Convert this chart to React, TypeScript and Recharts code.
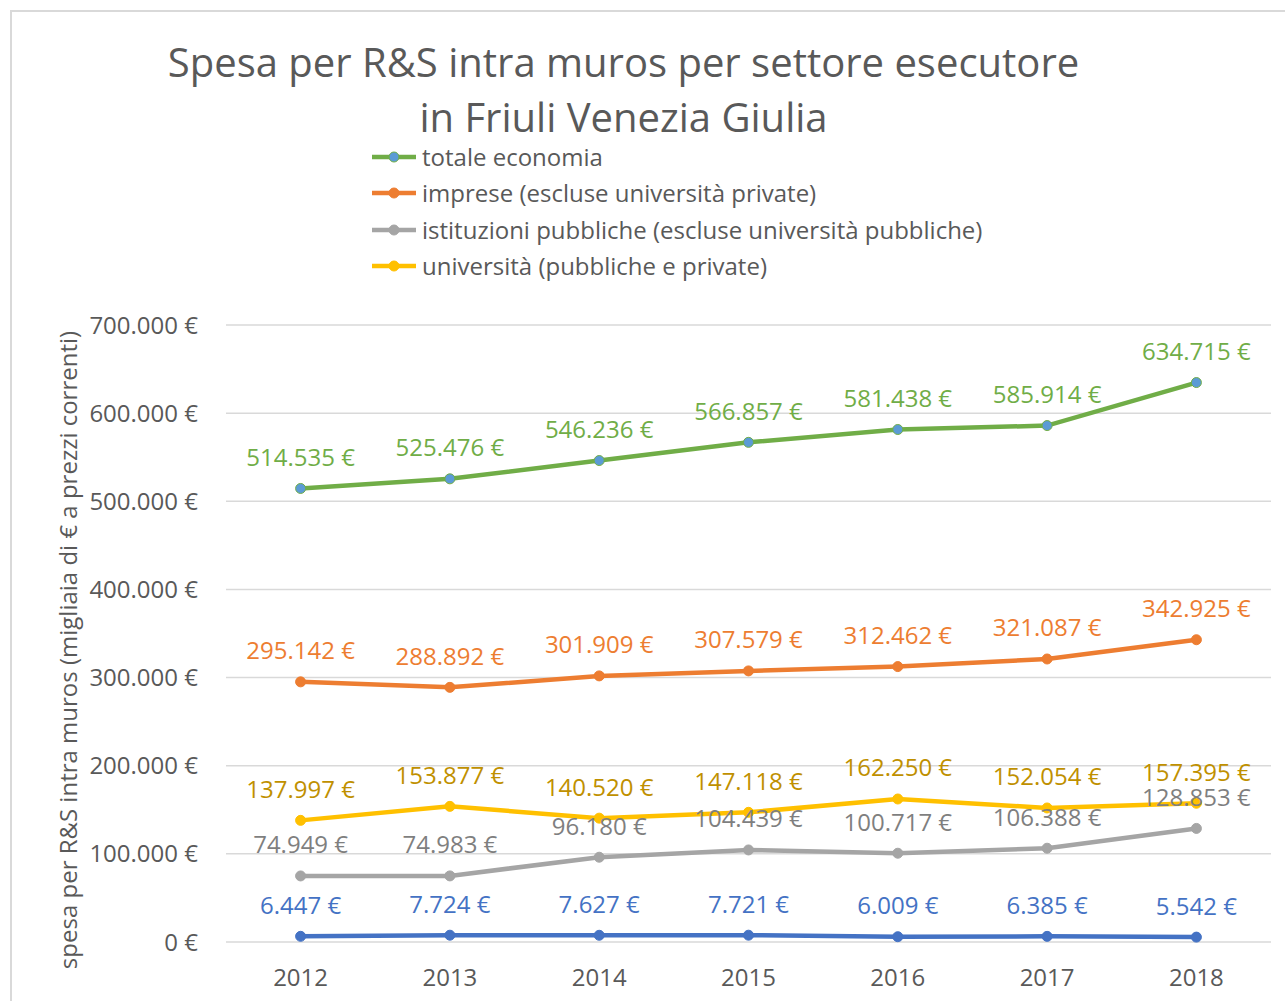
import React from 'react';
import { LineChart, Line, XAxis, YAxis, CartesianGrid, LabelList } from 'recharts';

const years = ['2012', '2013', '2014', '2015', '2016', '2017', '2018'];
const totale = [514535, 525476, 546236, 566857, 581438, 585914, 634715];
const imprese = [295142, 288892, 301909, 307579, 312462, 321087, 342925];
const istituzioni = [74949, 74983, 96180, 104439, 100717, 106388, 128853];
const universita = [137997, 153877, 140520, 147118, 162250, 152054, 157395];
const nonProfit = [6447, 7724, 7627, 7721, 6009, 6385, 5542];
const yTicks = [0, 100000, 200000, 300000, 400000, 500000, 600000, 700000];

const data = years.map((y, i) => ({
  year: y,
  totale: totale[i],
  imprese: imprese[i],
  istituzioni: istituzioni[i],
  universita: universita[i],
  nonProfit: nonProfit[i],
}));

const FONT = '"Open Sans", sans-serif';
const TEXT = '#595959';

const fmt = (n: number) => String(n).replace(/\B(?=(\d{3})+(?!\d))/g, '.') + ' €';

const makeLabel = (color: string) => (props: any) => {
  const { x, y, value } = props;
  return (
    <text x={x} y={y - 32} textAnchor="middle" dominantBaseline="central" fill={color} fontSize={24} fontFamily={FONT}>
      {fmt(value)}
    </text>
  );
};

const series = [
  { key: 'totale', name: 'totale economia', color: '#70AD47', dot: '#5B9BD5', label: '#70AD47', legend: true },
  { key: 'imprese', name: 'imprese (escluse università private)', color: '#ED7D31', dot: '#ED7D31', label: '#ED7D31', legend: true },
  { key: 'istituzioni', name: 'istituzioni pubbliche (escluse università pubbliche)', color: '#A5A5A5', dot: '#A5A5A5', label: '#7F7F7F', legend: true },
  { key: 'universita', name: 'università (pubbliche e private)', color: '#FFC000', dot: '#FFC000', label: '#BF9000', legend: true },
  { key: 'nonProfit', name: 'istituzioni private non profit', color: '#4472C4', dot: '#4472C4', label: '#4472C4', legend: false },
];

export default function App() {
  return (
    <div style={{ position: 'absolute', left: 0, top: 0, width: 1285, height: 1001, background: '#fff', overflow: 'hidden', fontFamily: FONT }}>
      <div style={{ position: 'absolute', left: 10, top: 10, width: 1320, height: 1040, border: '2px solid #D9D9D9', boxSizing: 'border-box' }} />
      <div style={{ position: 'absolute', left: 0, width: 1247, top: 34, textAlign: 'center', color: TEXT, fontSize: 40, lineHeight: '55px' }}>
        Spesa per R&amp;S intra muros per settore esecutore<br />in Friuli Venezia Giulia
      </div>
      <div style={{ position: 'absolute', left: 370, top: 139 }}>
        {series.filter(s => s.legend).map((s) => (
          <div key={s.key} style={{ display: 'flex', alignItems: 'center', height: 36.3 }}>
            <svg width={48} height={14} style={{ marginRight: 4 }}>
              <line x1={2} y1={7} x2={46} y2={7} stroke={s.color} strokeWidth={4.5} />
              <circle cx={24} cy={7} r={5} fill={s.dot} stroke={s.color} strokeWidth={1} />
            </svg>
            <span style={{ fontSize: 24, lineHeight: '30px', color: TEXT }}>{s.name}</span>
          </div>
        ))}
      </div>
      <div style={{ position: 'absolute', left: 67, top: 650, width: 0, height: 0 }}>
        <div style={{ position: 'absolute', transform: 'translate(-50%, -50%) rotate(-90deg)', whiteSpace: 'nowrap', fontSize: 24, color: TEXT }}>
          spesa per R&amp;S intra muros (migliaia di € a prezzi correnti)
        </div>
      </div>
      <div style={{ position: 'absolute', left: 0, top: 0 }}>
        <LineChart width={1285} height={1001} data={data} margin={{ top: 325, right: 14, bottom: 19, left: 0 }}>
          <CartesianGrid vertical={false} stroke="#D9D9D9" strokeWidth={1.5} />
          <XAxis dataKey="year" height={40} axisLine={false} tickLine={false} tickSize={0} tickMargin={27}
            padding={{ left: 74.6, right: 74.6 }}
            tick={{ fill: TEXT, fontSize: 24, fontFamily: FONT }} interval={0} />
          <YAxis width={226} domain={[0, 700000]} ticks={yTicks} axisLine={false} tickLine={false} tickSize={0} tickMargin={28}
            tickFormatter={(v: number) => fmt(v)} tick={{ fill: TEXT, fontSize: 24, fontFamily: FONT }} />
          {series.map((s) => (
            <Line key={s.key} dataKey={s.key} name={s.name} stroke={s.color} strokeWidth={4.5} type="linear"
              dot={{ r: 5, fill: s.dot, stroke: s.color, strokeWidth: 1 }} activeDot={false} isAnimationActive={false}>
              <LabelList dataKey={s.key} content={makeLabel(s.label)} />
            </Line>
          ))}
        </LineChart>
      </div>
    </div>
  );
}
